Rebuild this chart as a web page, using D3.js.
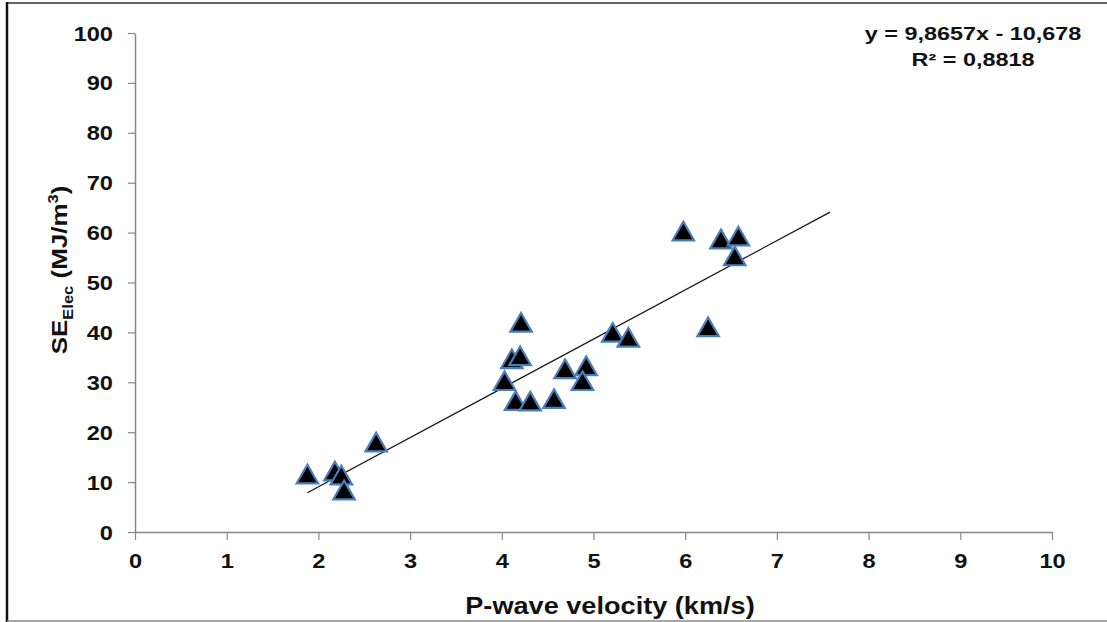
<!DOCTYPE html>
<html>
<head>
<meta charset="utf-8">
<script src="https://cdn.jsdelivr.net/npm/d3@7"></script>
<style>
  body { margin: 0; background: #fff; }
  text { font-family: "Liberation Sans", Arial, sans-serif; font-weight: bold; fill: #111; }
</style>
</head>
<body>
<svg width="1107" height="622"></svg>
<script>
// P-wave velocity (km/s) vs SE_Elec (MJ/m3)
const vp = [1.88, 2.18, 2.25, 2.28, 2.63, 4.21, 4.11, 4.20, 4.03, 4.15, 4.31,
            4.57, 4.69, 4.92, 4.88, 5.21, 5.98, 6.39, 6.58, 6.54, 6.25, 5.38];
const se = [11.2, 11.8, 11.0, 8.0, 17.6, 41.6, 34.3, 34.9, 29.9, 25.9, 25.8,
            26.3, 32.3, 32.9, 29.9, 39.6, 59.9, 58.3, 58.9, 54.9, 40.7, 38.6];

const x_ticks = [0, 1, 2, 3, 4, 5, 6, 7, 8, 9, 10];
const y_ticks = [0, 10, 20, 30, 40, 50, 60, 70, 80, 90, 100];

// linear trend, as printed on the chart
const slope     = 9.8657;
const intercept = -10.678;
const trend_x   = [1.88, 7.58];   // data range plus one unit forward
const eq_lines  = ["y = 9,8657x - 10,678", "R² = 0,8818"];

const svg    = d3.select("svg");
const width  = +svg.attr("width");
const height = +svg.attr("height");

const axis_color = "#888";
const stretch    = 1.18;   // the original text is a bit wider than Liberation Sans

const x = d3.scaleLinear().domain([0, 10]).range([135, 1052]);
const y = d3.scaleLinear().domain([0, 100]).range([532, 33]);

// frame around the picture
svg.append("line").attr("x1", 7).attr("x2", width).attr("y1", 3).attr("y2", 3)
  .attr("stroke", "#333").attr("stroke-width", 1.5);
svg.append("line").attr("x1", 7).attr("x2", 7).attr("y1", 2).attr("y2", height)
  .attr("stroke", "#111").attr("stroke-width", 2.5);
svg.append("line").attr("x1", 7).attr("x2", width).attr("y1", 621).attr("y2", 621)
  .attr("stroke", "#888").attr("stroke-width", 1.5);

// axes
const gx = svg.append("g").attr("transform", `translate(0,${y(0)})`)
  .call(d3.axisBottom(x).tickValues(x_ticks).tickSize(8).tickSizeOuter(0));
const gy = svg.append("g").attr("transform", `translate(${x(0)},0)`)
  .call(d3.axisLeft(y).tickValues(y_ticks).tickSize(7).tickSizeOuter(0));

[gx, gy].forEach(g => {
  g.select(".domain").attr("stroke", axis_color).attr("stroke-width", 1.5);
  g.selectAll(".tick line").attr("stroke", axis_color).attr("stroke-width", 1.2);
  g.selectAll(".tick text").style("font-size", "20px").style("font-family", "Liberation Sans, Arial, sans-serif")
    .style("font-weight", "bold").attr("fill", "#111");
});
gx.selectAll(".tick text").attr("y", 0).attr("dy", 0)
  .attr("transform", `translate(0,36) scale(${stretch},1)`);
gy.selectAll(".tick text").attr("x", 0).attr("dy", "0.35em")
  .attr("transform", `translate(-22,0) scale(${stretch},1)`);

// trend line
const line = d3.line().x(d => x(d)).y(d => y(slope * d + intercept));
svg.append("path").datum(trend_x).attr("d", line)
  .attr("fill", "none").attr("stroke", "#111").attr("stroke-width", 1.2);

// triangle markers
const tri = d3.symbol().type(d3.symbolTriangle).size(200);
svg.append("g").selectAll("path.pt")
  .data(vp.map((v, i) => [v, se[i]]))
  .enter().append("path")
  .attr("class", "pt")
  .attr("d", tri)
  .attr("transform", d => `translate(${x(d[0])},${y(d[1]) + 1})`)
  .attr("fill", "#000")
  .attr("stroke", "#4a7ebb")
  .attr("stroke-width", 2.2)
  .attr("stroke-linejoin", "miter");

// equation box
svg.append("g").selectAll("text.eq")
  .data(eq_lines).enter().append("text")
  .attr("class", "eq")
  .attr("transform", (d, i) => `translate(973,${40 + i * 26}) scale(1.3,1)`)
  .attr("text-anchor", "middle")
  .style("font-size", "18px")
  .text(d => d);

// axis titles
svg.append("text")
  .attr("transform", `translate(610,614) scale(${stretch},1)`)
  .attr("text-anchor", "middle")
  .style("font-size", "23px")
  .text("P-wave velocity (km/s)");

const yt = svg.append("text")
  .attr("transform", `translate(67,270) rotate(-90) scale(${stretch},1)`)
  .attr("text-anchor", "middle")
  .style("font-size", "22px");
yt.append("tspan").text("SE");
yt.append("tspan").attr("dy", 6).style("font-size", "14px").text("Elec");
yt.append("tspan").attr("dy", -6).text(" (MJ/m");
yt.append("tspan").attr("dy", -9).style("font-size", "14px").text("3");
yt.append("tspan").attr("dy", 9).text(")");
</script>
</body>
</html>
